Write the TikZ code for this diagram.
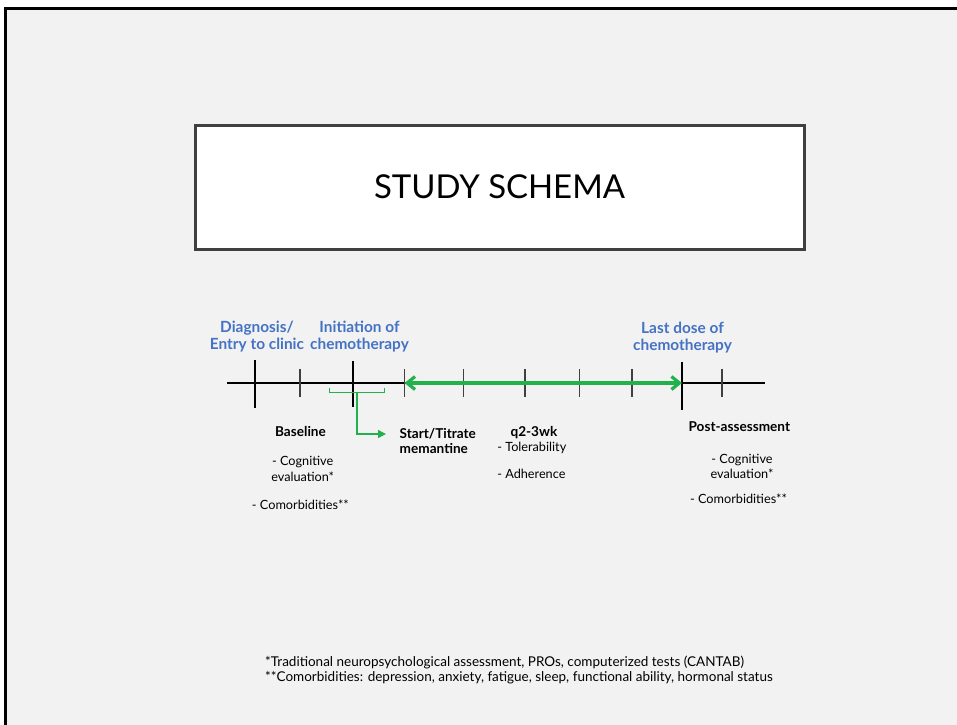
\documentclass[tikz,border=0pt]{standalone}
\usepackage{fontspec}
\setmainfont{Lato}
\usetikzlibrary{arrows.meta}
\definecolor{bg}{HTML}{F2F2F2}
\definecolor{blu}{HTML}{4472C4}
\definecolor{grn}{RGB}{34,177,76}
\definecolor{dk}{HTML}{404040}
\begin{document}
\begin{tikzpicture}[x=1pt,y=-1pt,
  lbl/.style={font=\fontsize{15.4}{17}\selectfont\bfseries, text=blu, align=center, inner sep=0pt, anchor=base},
  blab/.style={font=\fontsize{13.6}{15}\selectfont\bfseries, inner sep=0pt, anchor=base},
  txt/.style={font=\fontsize{12.7}{15.5}\selectfont, inner sep=0pt, anchor=base},
  foot/.style={font=\fontsize{13.5}{15.5}\selectfont, inner sep=0pt, anchor=base west, align=left},
  majortick/.style={line width=2pt, black},
  minortick/.style={line width=1.3pt, dk},
  grnline/.style={grn, line width=1.4pt}]
\useasboundingbox (0,0) rectangle (957,724);
\clip (0,0) rectangle (957,724);
\fill[white] (0,0) rectangle (957,724);
\fill[bg] (5,8.5) rectangle (962,730);
\draw[line width=3pt] (5.5,730) -- (5.5,8.5) -- (962,8.5);

% title box
\node[draw=dk, line width=3pt, fill=white, minimum width=608.5pt, minimum height=124.5pt, inner sep=0pt] (titlebox) at (499.75,187.25) {};
\node[font=\fontsize{32.9}{40}\selectfont, inner sep=0pt] (title) at (499.5,186.5) {STUDY SCHEMA};

% timeline
\coordinate (tl) at (227,383);
\coordinate (tr) at (765,383);
\draw[line width=2.3pt] (tl) -- (tr);
\draw[majortick] (255,360) -- (255,408);
\draw[majortick] (353,361) -- (353,407);
\draw[majortick] (682,362) -- (682,410);
\foreach \x in {300,404.5,463.5,525,579.5,632,722}
  \draw[minortick] (\x,369) -- (\x,397);

% green double arrow
\coordinate (ga) at (404.5,383);
\coordinate (gb) at (682,383);
\draw[grn, line width=3.2pt, {Straight Barb[length=8pt,width=13pt]}-{Straight Barb[length=8pt,width=13pt]}] (ga) -- (gb);

% bracket and elbow arrow
\draw[grnline] (329.5,387.5) -- (329.5,392.5) -- (384.5,392.5) -- (384.5,387.5);
\coordinate (bm) at (357,392.5);
\coordinate (be) at (386,434);
\draw[grnline, -{Triangle[length=8pt,width=8pt]}] (bm) |- (be);

% blue labels
\node[lbl] (diag) at (257,349.5) {Diagnosis/\\Entry to clinic};
\node[lbl] (init) at (359.5,349.5) {Initiation of\\chemotherapy};
\node[lbl] (last) at (682.5,350.5) {Last dose of\\chemotherapy};

% black labels
\node[blab] (base) at (300.5,436.5) {Baseline};
\node[blab, anchor=base west, align=left] (start) at (399.5,453.5) {Start/Titrate\\memantine};
\node[blab] (q2) at (533.9,436) {q2-3wk};
\node[blab] (post) at (739.3,431) {Post-assessment};

\node[txt, anchor=base west] (tol) at (497.1,451) {- Tolerability};
\node[txt, anchor=base west] (adh) at (497.1,478.5) {- Adherence};

\node[txt, align=center, font=\fontsize{12.7}{15.7}\selectfont] (bcog) at (302.7,481) {- Cognitive\\evaluation*};
\node[txt] (bcom) at (300.4,509.5) {- Comorbidities**};
\node[txt, align=center, font=\fontsize{12.7}{15}\selectfont] (pcog) at (742,478.5) {- Cognitive\\evaluation*};
\node[txt] (pcom) at (738.5,503.5) {- Comorbidities**};

% footnotes
\node[foot] (fn) at (265,681.5) {*Traditional neuropsychological assessment, PROs, computerized tests (CANTAB)\\**Comorbidities: depression, anxiety, fatigue, sleep, functional ability, hormonal status};
\end{tikzpicture}
\end{document}
